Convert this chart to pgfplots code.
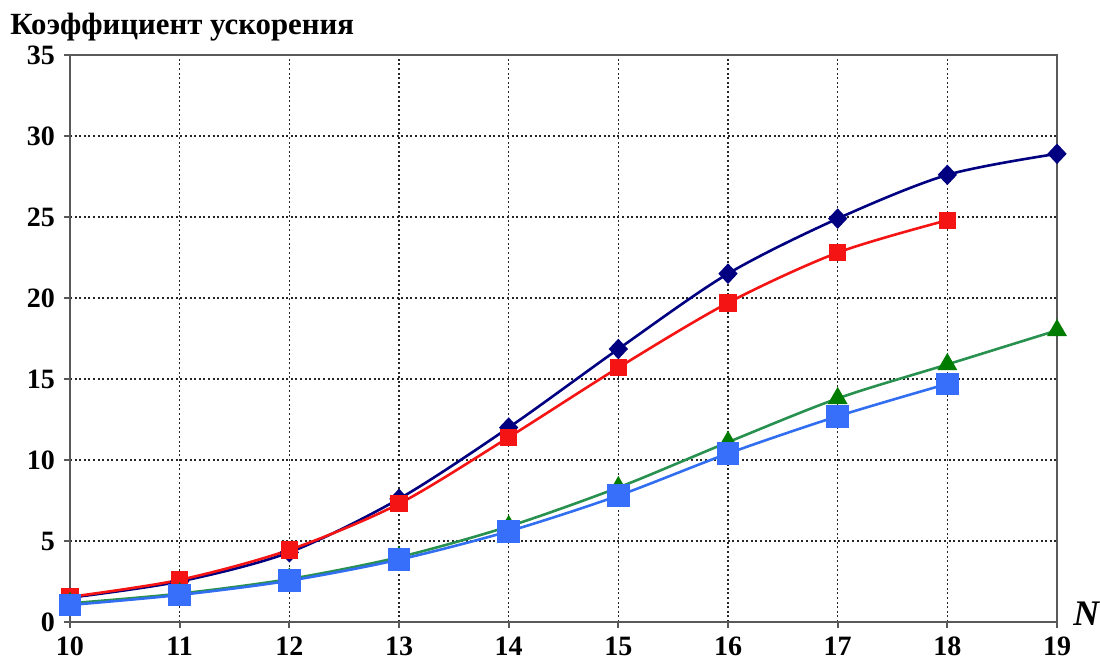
\documentclass[border=0pt]{standalone}
\usepackage{fontspec}
\setmainfont{Liberation Serif}
\usepackage{pgfplots}
\pgfplotsset{compat=1.18}

\definecolor{navyline}{RGB}{0,0,128}
\definecolor{redline}{RGB}{245,20,20}
\definecolor{greenline}{RGB}{40,145,80}
\definecolor{greenmark}{RGB}{0,125,0}
\definecolor{blueline}{RGB}{50,110,240}
\definecolor{bluemark}{RGB}{55,110,250}

\begin{document}
\begin{tikzpicture}
  \begin{axis}[
      scale only axis,
      width=493.5pt, height=283.5pt,
      xmin=10, xmax=19, ymin=0, ymax=35,
      xtick={10,...,19}, ytick={0,5,...,35},
      grid=major,
      major grid style={black!85, line width=0.7pt, dash pattern=on 1pt off 1.3pt},
      axis line style={gray!70!black, line width=1pt},
      tick style={gray!70!black, line width=1pt},
      tick align=outside,
      major tick length=3pt,
      xtick pos=bottom, ytick pos=left,
      /pgf/number format/assume math mode=true,
      ticklabel style={font=\fontsize{14}{15}\selectfont\bfseries},
      xticklabel style={yshift=-1pt},
      yticklabel style={xshift=-1pt},
      clip=false,
    ]
    % N = 10 ... 19
    \addplot[navyline, line width=1.3pt, smooth, mark=diamond*, mark size=4.2pt,
      mark options={xscale=1.25}] coordinates {
      (10,1.5) (11,2.5) (12,4.3) (13,7.6) (14,12.0) (15,16.85)
      (16,21.5) (17,24.9) (18,27.6) (19,28.9)
    };
    \addplot[redline, line width=1.3pt, smooth, mark=square*, mark size=3.7pt] coordinates {
      (10,1.55) (11,2.6) (12,4.45) (13,7.3) (14,11.4) (15,15.7)
      (16,19.7) (17,22.8) (18,24.8)
    };
    \addplot[greenline, line width=1.3pt, smooth, mark=triangle*, mark size=4.5pt,
      mark options={fill=greenmark, draw=greenmark}] coordinates {
      (10,1.15) (11,1.75) (12,2.65) (13,4.0) (14,5.9) (15,8.3)
      (16,11.1) (17,13.8) (18,15.9) (19,18.0)
    };
    \addplot[blueline, line width=1.3pt, smooth, mark=square*, mark size=5pt,
      mark options={fill=bluemark, draw=bluemark}] coordinates {
      (10,1.05) (11,1.67) (12,2.55) (13,3.85) (14,5.6) (15,7.8)
      (16,10.4) (17,12.7) (18,14.7)
    };
    \node[anchor=base west, inner sep=0pt, font=\fontsize{15.4}{17}\selectfont\bfseries]
      at ([xshift=-30pt, yshift=10pt]rel axis cs:0,1) {Коэффициент ускорения};
    \node[anchor=west, inner sep=0pt, font=\fontsize{18}{19}\selectfont\bfseries\itshape]
      at ([xshift=8pt, yshift=4pt]rel axis cs:1,0) {N};
    \coordinate (ll) at (rel axis cs:0,0);
    \coordinate (ur) at (rel axis cs:1,1);
  \end{axis}
  \pgfresetboundingbox
  \path ([shift={(-35pt,-19.5pt)}]ll) rectangle ([shift={(21.5pt,27.5pt)}]ur);
\end{tikzpicture}
\end{document}
